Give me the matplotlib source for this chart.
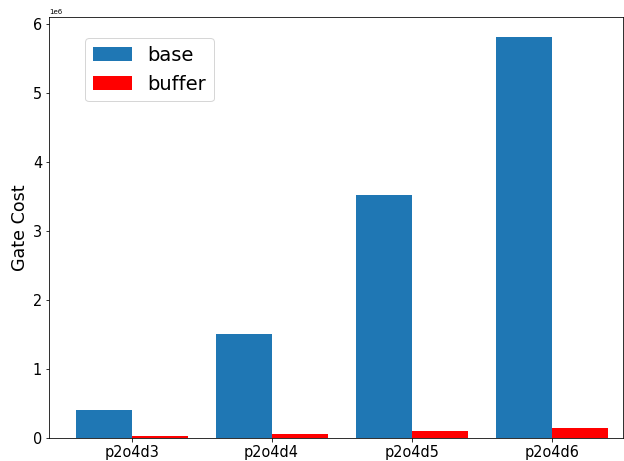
import matplotlib
matplotlib.use('Agg')
import matplotlib.pyplot as plt
import numpy as np

# data
labels = ["p2o4d3", "p2o4d4", "p2o4d5", "p2o4d6"]
base = [0.405e6, 1.51e6, 3.52e6, 5.81e6]
buffer = [0.033e6, 0.067e6, 0.10e6, 0.153e6]

x = np.arange(len(labels))
w = 0.4

fig = plt.figure(figsize=(624/72., 461/72.), dpi=72)
ax = fig.add_axes([49/624., 1-438.3/461., (623-49)/624., (438.3-17)/461.])

ax.bar(x - w/2, base, w, color='#1f77b4', label='base')
ax.bar(x + w/2, buffer, w, color='red', label='buffer')

ax.set_xticks(x)
ax.set_xticklabels(labels, fontsize=14.5)
ax.tick_params(axis='y', labelsize=14.5)
ax.set_ylabel('Gate Cost', fontsize=17.5, labelpad=4)
ax.yaxis.get_offset_text().set_fontsize(7)
ax.set_xlim(-0.59, 3.51)

ax.legend(loc='upper left', bbox_to_anchor=(0.063, 0.95), borderaxespad=0,
          prop={'size': 19.5})

plt.savefig("out.png", dpi=72)
